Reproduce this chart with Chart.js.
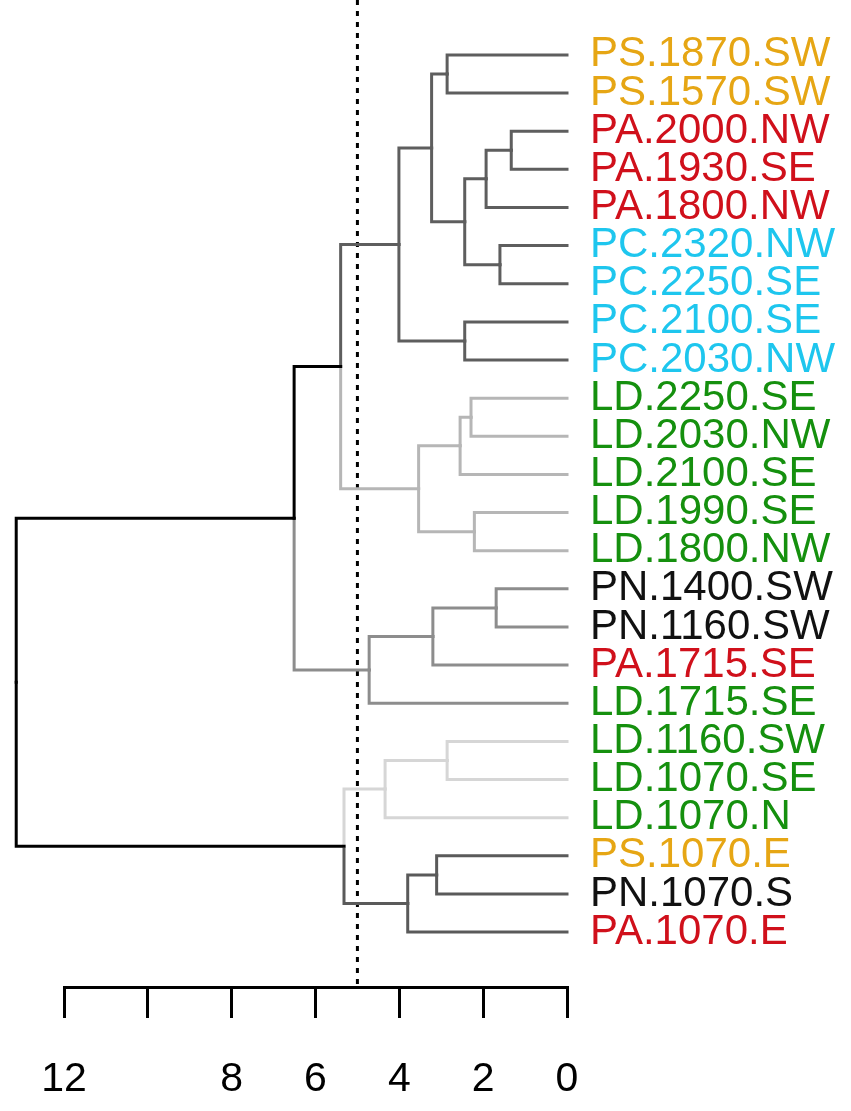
<!DOCTYPE html>
<html>
<head>
<meta charset="utf-8">
<script src="https://cdn.jsdelivr.net/npm/chart.js@4.4.1/dist/chart.umd.min.js"></script>
<style>
  html, body { margin: 0; padding: 0; background: #ffffff; }
  #wrap { position: relative; width: 851px; height: 1111px; }
</style>
</head>
<body>
<div id="wrap"><canvas id="c"></canvas></div>
<script>
// ---------- DATA ----------
const leafLabels = ["PS.1870.SW","PS.1570.SW","PA.2000.NW","PA.1930.SE","PA.1800.NW",
  "PC.2320.NW","PC.2250.SE","PC.2100.SE","PC.2030.NW","LD.2250.SE","LD.2030.NW",
  "LD.2100.SE","LD.1990.SE","LD.1800.NW","PN.1400.SW","PN.1160.SW","PA.1715.SE",
  "LD.1715.SE","LD.1160.SW","LD.1070.SE","LD.1070.N","PS.1070.E","PN.1070.S","PA.1070.E"];
// hclust-style merges: negative = leaf (1-based, in display order), positive = earlier merge
const mergeLeft   = [-3, -6, -15, 1, -13, -10, 4, -8, 6, -1, -19, -22, 3, 10, 9, 12, 14, 11, 13, 18, 17, 21, 22];
const mergeRight  = [-4, -7, -16, -5, -14, -11, 2, -9, -12, -2, -20, -23, -17, 7, 5, -24, 8, -21, -18, 16, 15, 19, 20];
const mergeHeight = [1.33, 1.60, 1.69, 1.93, 2.21, 2.29, 2.44, 2.44, 2.55, 2.86, 2.86, 3.11, 3.20, 3.23, 3.54, 3.80, 4.01, 4.34, 4.72, 5.32, 5.40, 6.51, 13.14];
const cutHeight = 5;
const axisTickValues = [12, 10, 8, 6, 4, 2, 0];
const axisTickText   = ["12", "", "8", "6", "4", "2", "0"];

// ---------- STYLE ----------
const groupColors = { PS: "#E6A614", PA: "#D0101B", PC: "#1EC6EE", LD: "#15900E", PN: "#111111" };
const branchColors = { 17: "#5e5e5e", 15: "#b6b6b6", 19: "#8d8d8d", 18: "#d6d6d6", 16: "#5a5a5a" };
const FONT = "'Liberation Sans', Arial, sans-serif";
const yMin = -1.44, yMax = 24.44;

// ---------- BUILD DENDROGRAM SEGMENTS FROM MERGES ----------
const nodeY = {}, nodeH = {};
function yOf(id) { return id < 0 ? (-id - 1) : nodeY[id]; }
function hOf(id) { return id < 0 ? 0 : nodeH[id]; }
for (let i = 0; i < mergeHeight.length; i++) {
  const id = i + 1;
  nodeH[id] = mergeHeight[i];
  nodeY[id] = (yOf(mergeLeft[i]) + yOf(mergeRight[i])) / 2;
}
const rootId = mergeHeight.length;
const datasets = [];
function walk(id, col) {
  if (id < 0) return;
  const i = id - 1;
  [mergeLeft[i], mergeRight[i]].forEach(ch => {
    const chCol = (ch > 0 && branchColors[ch]) ? branchColors[ch] : col;
    datasets.push({
      data: [
        { x: nodeH[id], y: nodeY[id] },
        { x: nodeH[id], y: yOf(ch) },
        { x: hOf(ch), y: yOf(ch) }
      ],
      borderColor: chCol,
      borderWidth: 3,
      showLine: true,
      pointRadius: 0,
      fill: false,
      tension: 0,
      clip: false,
      borderCapStyle: 'square',
      borderJoinStyle: 'miter'
    });
    walk(ch, chCol);
  });
}
walk(rootId, "#000000");

// cut line
datasets.push({
  data: [{ x: cutHeight, y: yMin }, { x: cutHeight, y: yMax }],
  borderColor: "#000000",
  borderWidth: 3,
  borderDash: [5, 6],
  borderCapStyle: 'butt',
  showLine: true,
  pointRadius: 0,
  clip: false
});

function leafColor(i) {
  const g = leafLabels[i] ? leafLabels[i].split(".")[0] : "PN";
  return groupColors[g] || "#000";
}

new Chart(document.getElementById("c"), {
  type: "scatter",
  data: { datasets },
  options: {
    responsive: true,
    maintainAspectRatio: false,
    animation: false,
    layout: { padding: { left: 64, top: 0, right: 0, bottom: 0 } },
    plugins: { legend: { display: false }, tooltip: { enabled: false } },
    scales: {
      x: {
        type: "linear",
        reverse: true,
        min: 0,
        max: 12,
        afterBuildTicks: s => { s.ticks = axisTickValues.map(v => ({ value: v })); },
        afterFit: s => { s.height = 124; s.paddingLeft = 0; s.paddingRight = 0; },
        grid: {
          drawOnChartArea: false,
          drawTicks: true,
          tickLength: 31,
          color: "#000",
          lineWidth: 3
        },
        border: { display: true, color: "#000", width: 3 },
        ticks: {
          autoSkip: false,
          maxRotation: 0,
          padding: 37,
          color: "#000",
          font: { family: FONT, size: 41 },
          callback: (v) => {
            const k = axisTickValues.indexOf(v);
            return k >= 0 ? axisTickText[k] : "";
          }
        }
      },
      y: {
        type: "linear",
        position: "right",
        reverse: true,
        min: yMin,
        max: yMax,
        afterBuildTicks: s => { s.ticks = leafLabels.map((_, i) => ({ value: i })); },
        afterFit: s => { s.width = 284; s.paddingTop = 0; s.paddingBottom = 0; },
        grid: { display: false, drawTicks: false },
        border: { display: false },
        ticks: {
          autoSkip: false,
          padding: 23,
          font: { family: FONT, size: 42 },
          color: ctx => leafColor(ctx.tick ? ctx.tick.value : ctx.index),
          callback: v => leafLabels[v] !== undefined ? leafLabels[v] : ""
        }
      }
    }
  }
});
</script>
</body>
</html>
